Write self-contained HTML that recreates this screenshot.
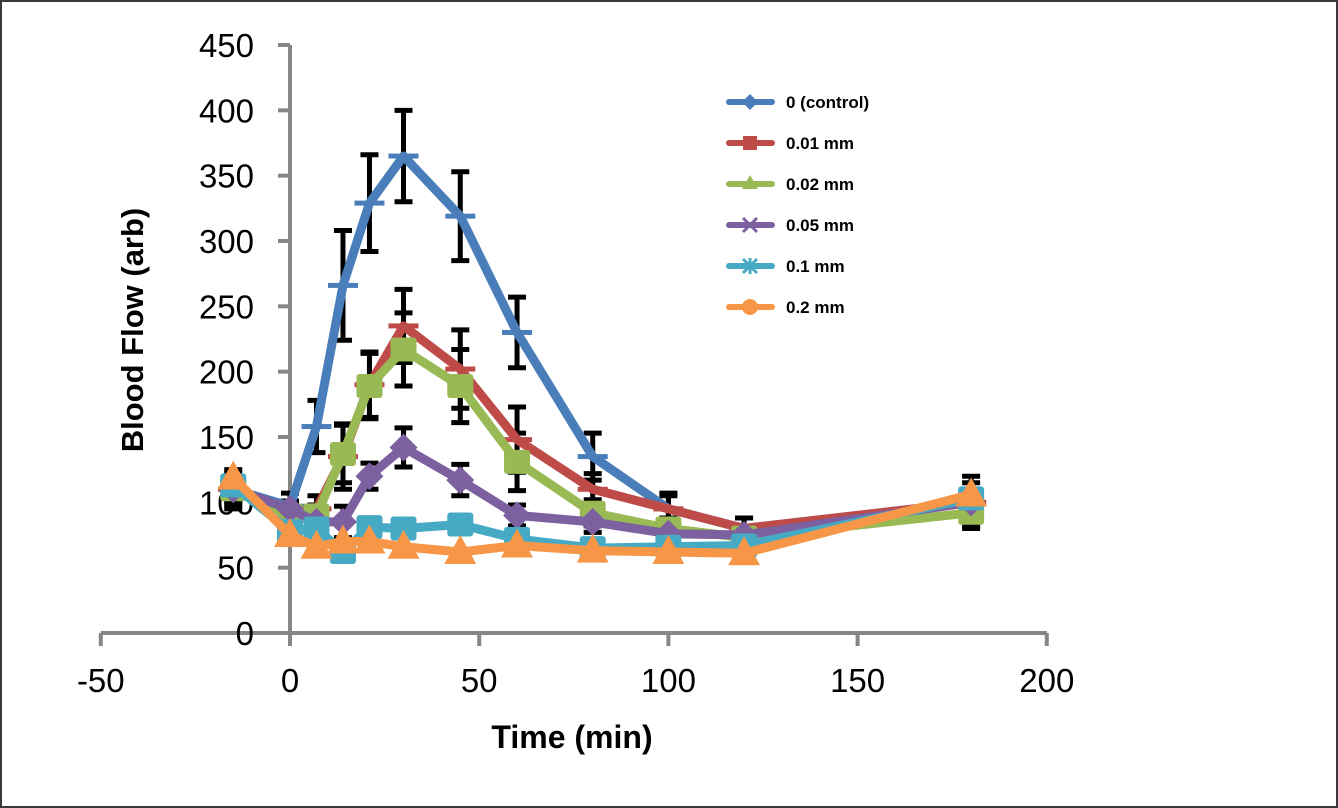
<!DOCTYPE html>
<html><head><meta charset="utf-8"><style>
html,body{margin:0;padding:0;background:#fff}
svg{display:block}
text{font-family:"Liberation Sans",sans-serif}
</style></head><body>
<svg id="chart" width="1338" height="808" viewBox="0 0 1338 808" xmlns="http://www.w3.org/2000/svg">
<rect x="1" y="1" width="1336" height="806" fill="#fff" stroke="#3a3a3a" stroke-width="2"/>
<g id="axes"></g>
<g id="errs"></g>
<g id="series"></g>
<g id="legend"></g>
<text x="572" y="748" font-size="32" font-weight="bold" text-anchor="middle">Time (min)</text>
<text transform="translate(143,330) rotate(-90)" font-size="31" font-weight="bold" text-anchor="middle">Blood Flow (arb)</text>
</svg>
<script>
const times = [-15, 0, 7, 14, 21, 30, 45, 60, 80, 100, 120, 180];
const seriesNames = ["0 (control)", "0.01 mm", "0.02 mm", "0.05 mm", "0.1 mm", "0.2 mm"];
const control = [110, 97, 158, 266, 329, 365, 319, 230, 135, 95, 80, 100];
const mm001 = [110, 93, 95, 135, 190, 235, 202, 148, 110, 95, 80, 100];
const mm002 = [110, 90, 90, 137, 189, 217, 189, 131, 92, 80, 73, 92];
const mm005 = [110, 95, 85, 85, 120, 142, 117, 90, 85, 76, 75, 100];
const mm01 = [113, 78, 80, 62, 81, 80, 83, 72, 65, 66, 67, 103];
const mm02 = [119, 75, 66, 70, 70, 66, 62, 67, 63, 62, 61, 106];
const errControl = [15, 10, 20, 42, 37, 35, 34, 27, 18, 12, 8, 20];
const err001 = [12, 8, 10, 25, 25, 28, 30, 25, 12, 10, 8, 15];
const err002 = [10, 8, 8, 22, 25, 28, 28, 22, 10, 8, 8, 10];
const err005 = [8, 6, 6, 12, 10, 15, 12, 8, 8, 6, 6, 8];
const xTicks = [-50, 0, 50, 100, 150, 200];
const yTicks = [0, 50, 100, 150, 200, 250, 300, 350, 400, 450];

const NS = "http://www.w3.org/2000/svg";
const X = t => 290 + (t) * 3.784;
const Y = v => 633 - v * 1.3067;
function mk(tag, attrs, parent){const e=document.createElementNS(NS,tag);for(const k in attrs)e.setAttribute(k,attrs[k]);parent.appendChild(e);return e;}
const axes=document.getElementById('axes'), errs=document.getElementById('errs'), ser=document.getElementById('series'), leg=document.getElementById('legend');

let a=mk('line',{x1:X(-50),y1:Y(0),x2:X(200),y2:Y(0),stroke:'#868686','stroke-width':4},axes);


a=mk('line',{x1:X(0),y1:Y(0),x2:X(0),y2:Y(450),stroke:'#868686','stroke-width':4},axes);


xTicks.forEach(t=>{
  mk('line',{x1:X(t),y1:Y(0),x2:X(t),y2:Y(0)+13,stroke:'#868686','stroke-width':4},axes);
  const tx=mk('text',{x:X(t),y:692,'font-size':33,'text-anchor':'middle'},axes);tx.textContent=t;
  
  
});
yTicks.forEach(v=>{
  mk('line',{x1:X(0)-12,y1:Y(v),x2:X(0),y2:Y(v),stroke:'#868686','stroke-width':4},axes);
  const tx=mk('text',{x:254,y:Y(v)+12,'font-size':33,'text-anchor':'end'},axes);tx.textContent=v;
  
  
});

const data=[control,mm001,mm002,mm005,mm01,mm02];
const errsAll=[errControl,err001,err002,err005,null,null];
const colors=['#4a7ebb','#be4b48','#98b954','#7d60a0','#46aac5','#f79646'];
const keys=['control','0-01mm','0-02mm','0-05mm','0-1mm','0-2mm'];
const mtype=['dash','dash','sq','diamond','sq','tri'];

errsAll.forEach((er,si)=>{ if(!er) return; const d=data[si];
  times.forEach((t,i)=>{const x=X(t),y1=Y(d[i]+er[i]),y2=Y(d[i]-er[i]);
    const g=mk('path',{d:`M${x},${y1}V${y2}M${x-9},${y1}H${x+9}M${x-9},${y2}H${x+9}`,stroke:'#000','stroke-width':5,fill:'none'},errs);
    
    
  });
});

function marker(type,x,y,c,parent,s){
  let m;
  if(type==='dash') m=mk('rect',{x:x-15,y:y-2.5,width:30,height:5,fill:c},parent);
  else if(type==='sq') m=mk('rect',{x:x-13*s,y:y-12*s,width:26*s,height:24*s,rx:3,fill:c},parent);
  else if(type==='diamond') m=mk('path',{d:`M${x},${y-14*s}L${x+14*s},${y}L${x},${y+14*s}L${x-14*s},${y}Z`,fill:c},parent);
  else m=mk('path',{d:`M${x},${y-17*s}L${x+16*s},${y+12*s}L${x-16*s},${y+12*s}Z`,fill:c},parent);
  return m;
}
data.forEach((d,si)=>{
  const g=mk('g',{},ser);
  
  
  const pts=times.map((t,i)=>X(t)+','+Y(d[i])).join(' ');
  const l=mk('polyline',{points:pts,fill:'none',stroke:colors[si],'stroke-width':9,'stroke-linejoin':'round'},g);
  
  
  times.forEach((t,i)=>{
    const m=marker(mtype[si],X(t),Y(d[i]),colors[si],g,1);
    
    
  });
});

const legShapes=['diamond','sq','tri','x','star','circle'];
seriesNames.forEach((n,i)=>{
  const y=102+i*41, g=mk('g',{},leg);
  
  
  mk('line',{x1:729,y1:y,x2:772,y2:y,stroke:colors[i],'stroke-width':6,'stroke-linecap':'round'},g);
  const cx=750,sh=legShapes[i];
  if(sh==='diamond') mk('path',{d:`M${cx},${y-8}L${cx+8},${y}L${cx},${y+8}L${cx-8},${y}Z`,fill:colors[i]},g);
  else if(sh==='sq') mk('rect',{x:cx-7,y:y-7,width:14,height:14,fill:colors[i]},g);
  else if(sh==='tri') mk('path',{d:`M${cx},${y-9}L${cx+8},${y+5}L${cx-8},${y+5}Z`,fill:colors[i]},g);
  else if(sh==='x') mk('path',{d:`M${cx-7},${y-7}L${cx+7},${y+7}M${cx+7},${y-7}L${cx-7},${y+7}`,stroke:colors[i],'stroke-width':3},g);
  else if(sh==='star') mk('path',{d:`M${cx-7},${y-7}L${cx+7},${y+7}M${cx+7},${y-7}L${cx-7},${y+7}M${cx},${y-8}V${y+8}`,stroke:colors[i],'stroke-width':3},g);
  else mk('circle',{cx:cx,cy:y,r:8,fill:colors[i]},g);
  const t=mk('text',{x:786,y:y+6,'font-size':17,'font-weight':'bold'},g);t.textContent=n;
});
</script>
</body></html>
